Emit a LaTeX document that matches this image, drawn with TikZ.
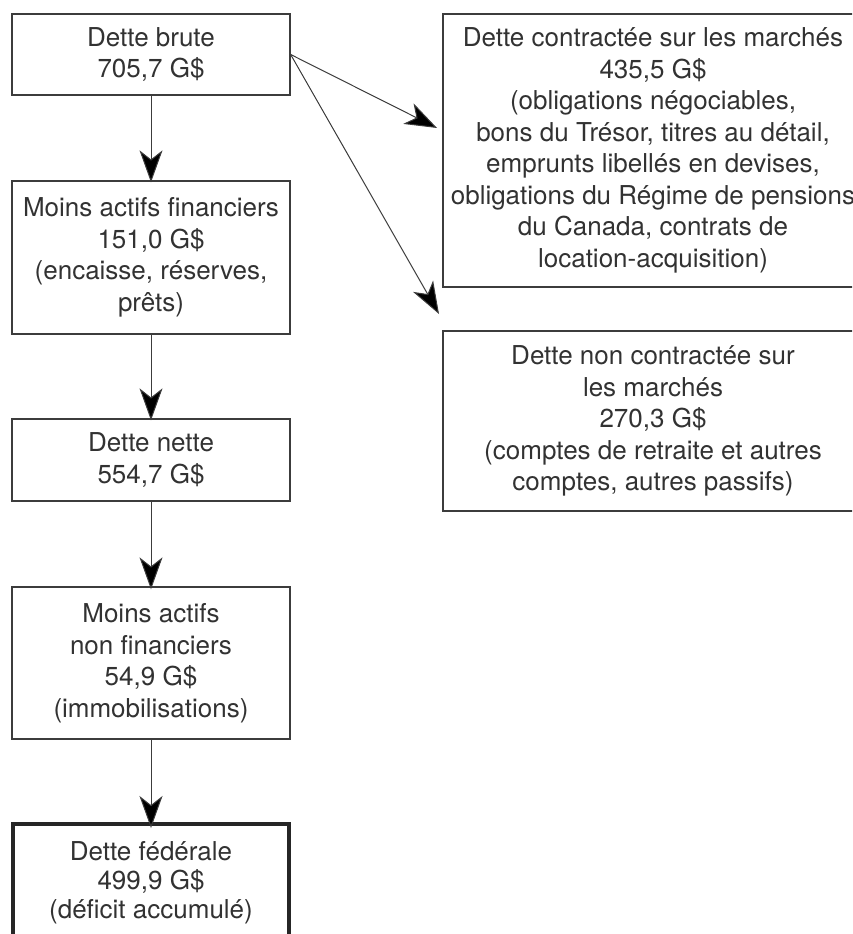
\documentclass[tikz,border=0pt]{standalone}
\usepackage{fontspec}
\setmainfont{TeX Gyre Heros}
\usetikzlibrary{arrows.meta}
\definecolor{linegray}{RGB}{60,60,60}
\definecolor{txt}{RGB}{50,50,50}
\tikzset{
  box/.style={draw=linegray, line width=1.3pt, inner sep=0pt, align=center,
    text=txt, font=\fontsize{26}{31.5}\selectfont},
  thickbox/.style={box, draw=black!85, line width=4pt},
  flow/.style={draw=linegray, line width=1pt,
    -{Stealth[length=32pt, width=23pt, inset=9pt, fill=black]}}
}
\begin{document}
\begin{tikzpicture}[x=1pt,y=-1pt]
\useasboundingbox (0,0) rectangle (852,934);
\clip (0,0) rectangle (852,934);
\node[box, minimum width=278pt, minimum height=81pt] (b1) at (151,54.5) {Dette brute\\705,7 G\$};
\node[box, minimum width=278pt, minimum height=153pt] (b2) at (151,257.5) {Moins actifs financiers\\151,0 G\$\\(encaisse, réserves,\\prêts)};
\node[box, minimum width=278pt, minimum height=82pt] (b3) at (151,460) {Dette nette\\554,7 G\$};
\node[box, minimum width=278pt, minimum height=152pt] (b4) at (151,663) {Moins actifs\\non financiers\\54,9 G\$\\(immobilisations)};
\node[thickbox, minimum width=276pt, minimum height=118pt, font=\fontsize{26}{29}\selectfont] (b5) at (151,883) {Dette fédérale\\499,9 G\$\\(déficit accumulé)};
\node[box, minimum width=420pt, minimum height=273pt] (r1) at (653,150.5) {Dette contractée sur les marchés\\435,5 G\$\\(obligations négociables,\\bons du Trésor, titres au détail,\\emprunts libellés en devises,\\obligations du Régime de pensions\\du Canada, contrats de\\location-acquisition)};
\node[box, minimum width=420pt, minimum height=180pt] (r2) at (653,421) {Dette non contractée sur\\les marchés\\270,3 G\$\\(comptes de retraite et autres\\comptes, autres passifs)};
\coordinate (t1) at (437,128);
\coordinate (t2) at (439,314);
\draw[flow] (b1.east) -- (t1);
\draw[flow] (b1.east) -- (t2);
\draw[flow] (b1.south) -- ([yshift=-2pt]b2.north);
\draw[flow] (b2.south) -- ([yshift=-2pt]b3.north);
\draw[flow] (b3.south) -- ([yshift=-3pt]b4.north);
\draw[flow] (b4.south) -- ([yshift=-6pt]b5.north);
\end{tikzpicture}
\end{document}
